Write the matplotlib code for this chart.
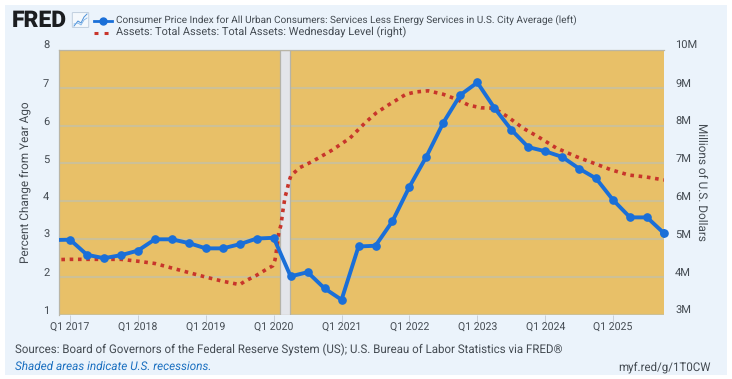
import matplotlib
matplotlib.use('Agg')
import matplotlib.pyplot as plt
import matplotlib.lines as mlines
import matplotlib.patches as mpatches
from matplotlib.transforms import ScaledTranslation

plt.rcParams['font.family'] = ['Roboto', 'DejaVu Sans']
plt.rcParams['text.hinting'] = 'no_hinting'

W, H = 732, 379

# Quarter index: 0 = Q1 2017
cpi_q = list(range(-1, 36))
cpi_vals = [2.97, 2.98, 2.58, 2.49, 2.57, 2.69, 2.99, 2.99, 2.89, 2.75, 2.75, 2.86, 3.01,
            3.03, 2.01, 2.12, 1.69, 1.39, 2.80, 2.82, 3.47, 4.38, 5.18, 6.08, 6.81,
            7.14, 6.47, 5.89, 5.43, 5.32, 5.17, 4.86, 4.60, 4.03, 3.57, 3.57, 3.15]

assets_q = [-1, 0, 1, 2, 3, 4, 5, 6, 7, 8, 9, 10, 10.3, 10.96, 11.55, 11.95, 12.08, 12.2,
            12.3, 12.43, 12.55, 12.67, 12.79, 12.9, 13.02, 13.55, 14.32, 15.44, 16.5,
            17.38, 18.03, 18.74, 19.8, 20.39, 21.1, 21.98, 22.75, 23.5, 24.22, 24.98,
            25.8, 26.7, 27.6, 28.64, 29.82, 31, 31.88, 32.94, 33.94, 35]
assets_m = [4.45, 4.46, 4.46, 4.46, 4.46, 4.41, 4.35, 4.23, 4.11, 3.99, 3.88, 3.79, 3.88,
            4.03, 4.19, 4.29, 4.45, 4.80, 5.16, 5.37, 5.77, 6.11, 6.30, 6.52, 6.68, 6.89,
            7.06, 7.35, 7.67, 8.07, 8.33, 8.54, 8.83, 8.89, 8.92, 8.83, 8.70, 8.54, 8.47,
            8.46, 8.23, 7.93, 7.70, 7.41, 7.18, 6.98, 6.83, 6.69, 6.64, 6.56]

recession = (12.35, 12.99)
x_ticks = [0, 4, 8, 12, 16, 20, 24, 28, 32]
x_labels = ['Q1 2017', 'Q1 2018', 'Q1 2019', 'Q1 2020', 'Q1 2021',
            'Q1 2022', 'Q1 2023', 'Q1 2024', 'Q1 2025']
left_ticks = [1, 2, 3, 4, 5, 6, 7, 8]
right_ticks = [3, 4, 5, 6, 7, 8, 9, 10]
right_labels = ['3M', '4M', '5M', '6M', '7M', '8M', '9M', '10M']

BLUE = '#1a6fd8'
RED = '#c8352b'
TEXT = '#444b52'
PLOT_BG = '#e8c068'
GRID = '#cdc096'
PANEL = '#ebf3fb'


def fx(px):
    return px / W


def fy(py):
    return 1 - py / H


fig = plt.figure(figsize=(W / 100, H / 100), dpi=100, facecolor='white')

# Light panel behind everything
fig.patches.append(mpatches.Rectangle((fx(5), fy(375)), fx(722), 370 / H, transform=fig.transFigure,
                                      facecolor=PANEL, edgecolor='none', zorder=-5))

ax = fig.add_axes([fx(59), fy(314.5), fx(605), 264.5 / H])
ax.set_facecolor(PLOT_BG)
ax.set_xlim(-0.65, 35)
ax.set_ylim(1, 8)
ax.grid(True, axis='y', color=GRID, linewidth=1.5, zorder=1)
ax.set_axisbelow(True)

ax.axvspan(recession[0], recession[1], facecolor='#e3e5ea', edgecolor='#b5b3a8',
           linewidth=0.9, zorder=1.5)

# Tick labels on the y axes sit a few pixels above their gridlines
lift = ScaledTranslation(0, 5 / 72 * 0.72, fig.dpi_scale_trans)

ax.set_xticks(x_ticks)
ax.set_xticklabels(x_labels, fontsize=7.6, color=TEXT)
ax.set_yticks(left_ticks)
ax.set_yticklabels([str(v) for v in left_ticks], fontsize=8, color=TEXT)
ax.tick_params(axis='x', length=5, width=0.7, color='#c9cfd6', pad=1)
ax.tick_params(axis='y', length=0, pad=7)
for lab in ax.get_yticklabels():
    lab.set_transform(lab.get_transform() + lift)
for name, spine in ax.spines.items():
    spine.set_visible(name in ('left', 'top'))
    spine.set_color('#b9b5a6')
    spine.set_linewidth(0.9)

ax.set_ylabel('Percent Change from Year Ago', fontsize=8.5, color=TEXT, labelpad=9)

ax2 = ax.twinx()
ax2.set_ylim(3, 10)
ax2.set_yticks(right_ticks)
ax2.set_yticklabels(right_labels, fontsize=8, color=TEXT)
ax2.tick_params(axis='y', length=0, pad=8)
for lab in ax2.get_yticklabels():
    lab.set_transform(lab.get_transform() + lift)
for spine in ax2.spines.values():
    spine.set_visible(False)
ax2.set_ylabel('Millions of U.S. Dollars', fontsize=8.5, color=TEXT, rotation=270, labelpad=7)
ax2.set_zorder(2)

ax2.plot(assets_q, assets_m, color=RED, linewidth=2.6, dashes=(1, 1.3), dash_capstyle='butt', zorder=3)

# Blue series lives on the left scale, drawn above the red one
ax3 = ax.twinx()
ax3.set_ylim(1, 8)
ax3.axis('off')
ax3.set_zorder(3)
ax3.plot(cpi_q, cpi_vals, color=BLUE, linewidth=2.8, marker='o', markersize=5.2, zorder=4)
ax3.plot(cpi_q[-1:], cpi_vals[-1:], color=BLUE, marker='o', markersize=5.2, clip_on=False, zorder=5)

# Header
fig.text(fx(12), fy(21), 'FRED', fontsize=16.5, fontweight='black', color='#1b1d20', va='center', ha='left')
fig.patches.append(mpatches.FancyBboxPatch((fx(73), fy(27)), fx(15), 14 / H, boxstyle='round,pad=0.001',
                                           transform=fig.transFigure, facecolor='#f4f8fc',
                                           edgecolor='#b9c9da', linewidth=0.6))
fig.add_artist(mlines.Line2D([fx(74), fx(78), fx(81), fx(84), fx(87)], [fy(26), fy(21), fy(23), fy(17), fy(14)],
                             color='#4a90d9', linewidth=0.7))
fig.add_artist(mlines.Line2D([fx(74), fx(78), fx(81), fx(84), fx(87)], [fy(24), fy(23), fy(25), fy(20), fy(18)],
                             color='#7fb3e6', linewidth=0.6))

fig.add_artist(mlines.Line2D([fx(94), fx(112)], [fy(21), fy(21)], color=BLUE, linewidth=2.0))
fig.add_artist(mlines.Line2D([fx(103)], [fy(21)], color=BLUE, marker='o', markersize=5, linestyle='None'))
fig.add_artist(mlines.Line2D([fx(94), fx(112)], [fy(33), fy(33)], color=RED, linewidth=2.2,
                             dashes=(1.3, 2.0), dash_capstyle='butt'))
fig.text(fx(116), fy(19.5), 'Consumer Price Index for All Urban Consumers: Services Less Energy Services in U.S. City Average (left)',
         fontsize=7.2, color=TEXT, va='center', ha='left')
fig.text(fx(116), fy(32), 'Assets: Total Assets: Total Assets: Wednesday Level (right)',
         fontsize=7.9, color=TEXT, va='center', ha='left')

# Footer
fig.text(fx(15), fy(350), 'Sources: Board of Governors of the Federal Reserve System (US); U.S. Bureau of Labor Statistics via FRED\u00ae',
         fontsize=8.3, color=TEXT, va='center', ha='left')
fig.text(fx(15), fy(367), 'Shaded areas indicate U.S. recessions.', fontsize=8.45, color='#1a6fc0',
         style='italic', va='center', ha='left')
fig.text(fx(711), fy(367), 'myf.red/g/1T0CW', fontsize=8.3, color=TEXT, va='center', ha='right')

fig.savefig('out.png', dpi=100)
